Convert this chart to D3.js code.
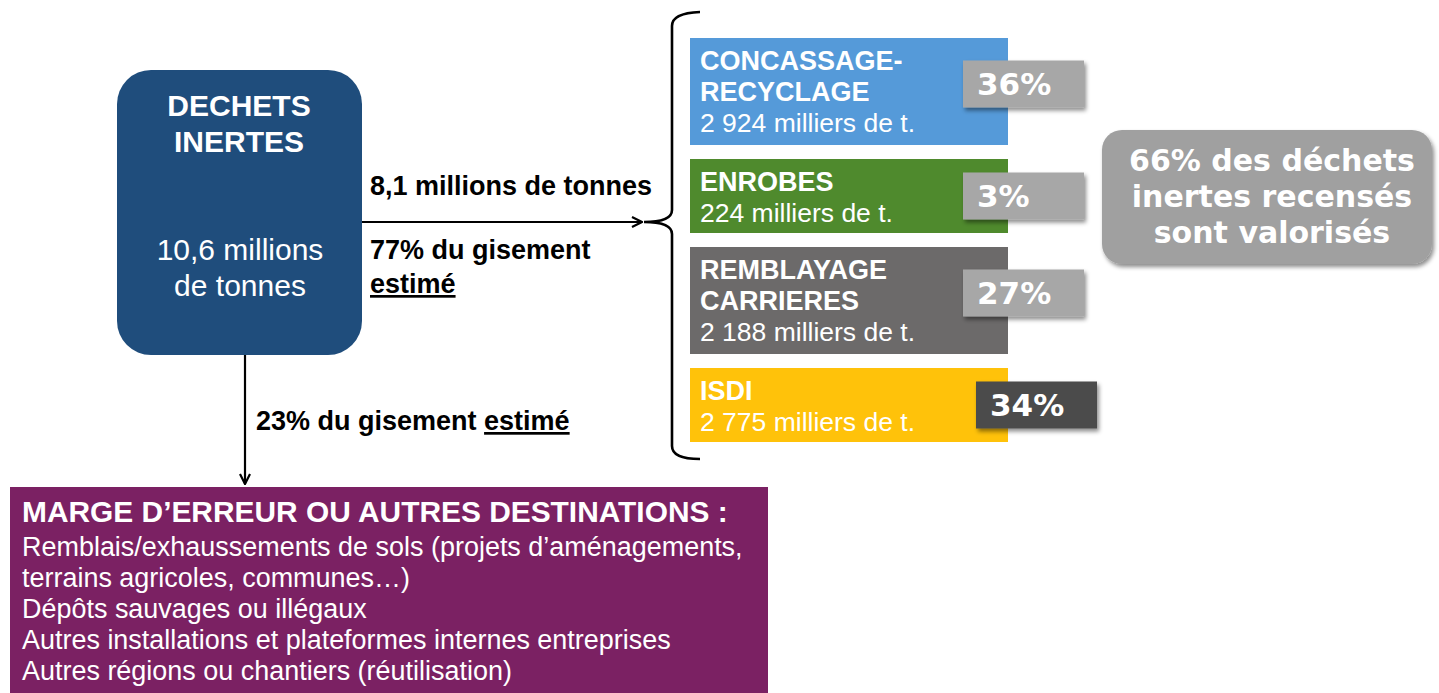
<!DOCTYPE html>
<html>
<head>
<meta charset="utf-8">
<script src="https://cdn.jsdelivr.net/npm/d3@7"></script>
<style>
  html, body { margin: 0; padding: 0; background: #fff; }
  svg { display: block; }
</style>
</head>
<body>
<div id="chart"></div>
<script>
//-----------------------------DATA------------------------------//
const sourceTitle = ["DECHETS", "INERTES"];
const sourceTotal = "10,6 millions";
const flowTonnes = "8,1 millions de tonnes";
const flowShareIn = 77;
const flowShareOut = 23;
const categoryLabels = [["CONCASSAGE-", "RECYCLAGE"], ["ENROBES"], ["REMBLAYAGE", "CARRIERES"], ["ISDI"]];
const tonnages = [2924, 224, 2188, 2775];
const shares = [36, 3, 27, 34];
const valorised = [true, true, true, false];
const summaryLines = ["66% des déchets", "inertes recensés", "sont valorisés"];
const otherTitle = "MARGE D\u2019ERREUR OU AUTRES DESTINATIONS :";
const otherLines = [
  "Remblais/exhaussements de sols (projets d\u2019aménagements,",
  "terrains agricoles, communes\u2026)",
  "Dépôts sauvages ou illégaux",
  "Autres installations et plateformes internes entreprises",
  "Autres régions ou chantiers (réutilisation)"
];

//-----------------------------STYLE-----------------------------//
const catColors = ["#559ad9", "#4f8a2d", "#6c6a6a", "#ffc20a"];
const width = 1439;
const height = 693;
const sans = "'Liberation Sans', Arial, sans-serif";
const verd = "'DejaVu Sans', Verdana, sans-serif";

const fr = d3.formatLocale({decimal: ",", thousands: " ", grouping: [3], currency: ["", " €"]});
const fmt = fr.format(",d");

const svg = d3.select("#chart").append("svg")
    .attr("width", width)
    .attr("height", height);

const defs = svg.append("defs");
const shadow = defs.append("filter").attr("id", "shadow")
    .attr("x", "-10%").attr("y", "-10%").attr("width", "130%").attr("height", "140%");
shadow.append("feDropShadow").attr("dx", 2).attr("dy", 3).attr("stdDeviation", 2)
    .attr("flood-color", "#000").attr("flood-opacity", 0.45);

const arrow = defs.append("marker").attr("id", "arrow")
    .attr("viewBox", "0 0 12 12").attr("refX", 11).attr("refY", 6)
    .attr("markerWidth", 12).attr("markerHeight", 12)
    .attr("markerUnits", "userSpaceOnUse").attr("orient", "auto");
arrow.append("path").attr("d", "M1,1 L11,6 L1,11")
    .attr("fill", "none").attr("stroke", "#000").attr("stroke-width", 2.2);

//-------------------------SOURCE BOX----------------------------//
svg.append("rect")
    .attr("x", 117).attr("y", 70).attr("width", 245).attr("height", 285)
    .attr("rx", 34).attr("fill", "#1f4d7c");

svg.append("g").selectAll("text").data(sourceTitle).join("text")
    .attr("x", 239).attr("y", (d, i) => 116 + i * 36)
    .attr("text-anchor", "middle").attr("fill", "#fff")
    .style("font", "bold 30px " + sans)
    .text(d => d);

svg.append("g").selectAll("text").data([sourceTotal, "de tonnes"]).join("text")
    .attr("x", 240).attr("y", (d, i) => 260 + i * 36)
    .attr("text-anchor", "middle").attr("fill", "#fff")
    .style("font", "30px " + sans)
    .text(d => d);

//----------------------------ARROWS-----------------------------//
svg.append("line")
    .attr("x1", 362).attr("y1", 222).attr("x2", 642).attr("y2", 222)
    .attr("stroke", "#000").attr("stroke-width", 2.2)
    .attr("marker-end", "url(#arrow)");

svg.append("line")
    .attr("x1", 245).attr("y1", 355).attr("x2", 245).attr("y2", 484)
    .attr("stroke", "#000").attr("stroke-width", 2.2)
    .attr("marker-end", "url(#arrow)");

const lab = svg.append("g").style("font", "bold 27px " + sans).attr("fill", "#000");
lab.append("text").attr("x", 370).attr("y", 195).text(flowTonnes);
lab.append("text").attr("x", 370).attr("y", 259).text(flowShareIn + "% du gisement");
lab.append("text").attr("x", 370).attr("y", 293)
    .style("text-decoration", "underline").text("estimé");
const t23 = lab.append("text").attr("x", 256).attr("y", 430);
t23.append("tspan").text(flowShareOut + "% du gisement ");
t23.append("tspan").style("text-decoration", "underline").text("estimé");

// brace
svg.append("path")
    .attr("d", "M700,12 Q672,13 672,26 L672,210 Q672,222 644,222 Q672,222 672,234 L672,446 Q672,459 700,459")
    .attr("fill", "none").attr("stroke", "#000").attr("stroke-width", 2.6);

//--------------------------CATEGORIES---------------------------//
const lineH = 33;
const pad = 8;
const gap = 14;
const boxH = categoryLabels.map(l => (l.length + 1) * lineH + pad);
const tops = [];
let acc = 0;
boxH.forEach((h, i) => { tops.push(acc); acc += h + gap; });
const total = acc - gap;
const yScale = d3.scaleLinear().domain([0, total]).range([38, 442]);
const xScale = d3.scaleLinear().domain([0, 1]).range([690, 1008]);

const cats = svg.append("g").selectAll("g").data(categoryLabels).join("g")
    .attr("transform", (d, i) => "translate(0," + yScale(tops[i]) + ")");

cats.append("rect")
    .attr("x", xScale(0)).attr("y", 0)
    .attr("width", xScale(1) - xScale(0))
    .attr("height", (d, i) => yScale(boxH[i]) - yScale(0))
    .attr("fill", (d, i) => catColors[i]);

cats.each(function(d, i) {
  const g = d3.select(this);
  d.forEach((ln, j) => {
    g.append("text").attr("x", 700).attr("y", 32 + j * 31)
      .attr("fill", "#fff").style("font", "bold 27px " + sans).text(ln);
  });
  g.append("text").attr("x", 700).attr("y", 32 + d.length * 31)
    .attr("fill", "#fff").style("font", "26.5px " + sans)
    .text(fmt(tonnages[i]) + " milliers de t.");

  const cy = 19 + (d.length + 1) * 9;
  const px = valorised[i] ? 963 : 976;
  g.append("rect")
    .attr("x", px).attr("y", cy - 23.5).attr("width", 121).attr("height", 47)
    .attr("fill", valorised[i] ? "#a7a7a7" : "#4b4b4b")
    .attr("filter", "url(#shadow)");
  g.append("text").attr("x", px + 14).attr("y", cy + 11)
    .attr("fill", "#fff").style("font", "bold 31px " + verd)
    .text(shares[i] + "%");
});

//---------------------------SUMMARY-----------------------------//
svg.append("rect")
    .attr("x", 1102).attr("y", 130).attr("width", 330).attr("height", 134)
    .attr("rx", 20).attr("fill", "#a0a0a0")
    .attr("filter", "url(#shadow)");

svg.append("g").selectAll("text").data(summaryLines).join("text")
    .attr("x", 1272).attr("y", (d, i) => 171 + i * 36)
    .attr("text-anchor", "middle").attr("fill", "#fff")
    .style("font", "bold 30px " + verd)
    .text(d => d);

//----------------------------OTHERS-----------------------------//
svg.append("rect")
    .attr("x", 10).attr("y", 487).attr("width", 758).attr("height", 210)
    .attr("fill", "#7b2163");

// condensed look: measure then squeeze horizontally
const ttl = svg.append("g");
ttl.append("text").attr("x", 0).attr("y", 522)
    .attr("fill", "#fff").style("font", "bold 30px " + sans).text(otherTitle);
const tw = ttl.select("text").node().getComputedTextLength();
ttl.attr("transform", "translate(22,0) scale(" + (706 / tw) + ",1)");

const oth = svg.append("g");
oth.selectAll("text").data(otherLines).join("text")
    .attr("x", 0).attr("y", (d, i) => 556 + i * 31)
    .attr("fill", "#fff").style("font", "27px " + sans)
    .text(d => d);
const w1 = oth.select("text").node().getComputedTextLength();
oth.attr("transform", "translate(22,0) scale(" + (721 / w1) + ",1)");
</script>
</body>
</html>
